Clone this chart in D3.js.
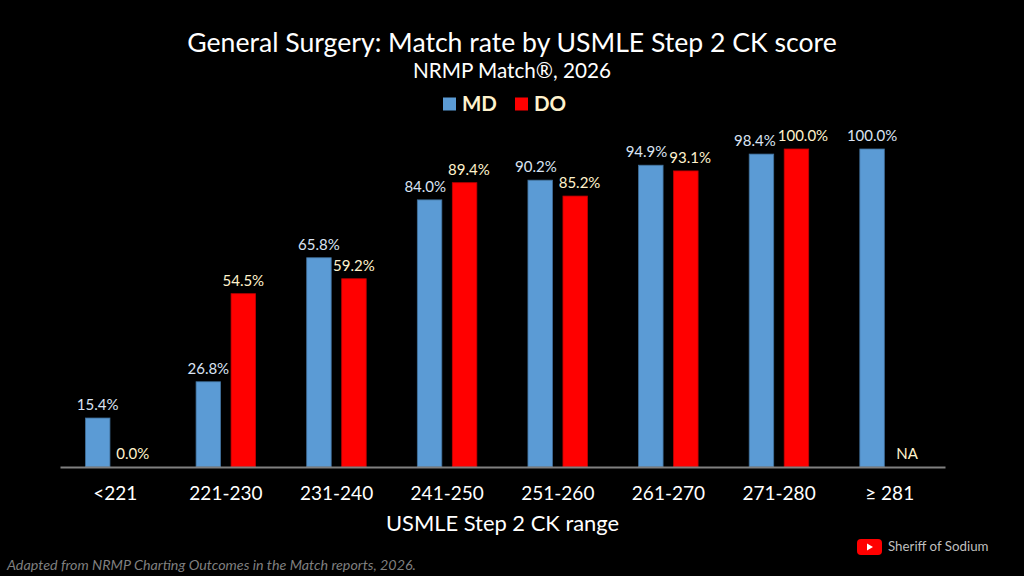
<!DOCTYPE html>
<html>
<head>
<meta charset="utf-8">
<script src="https://cdn.jsdelivr.net/npm/d3@7"></script>
<style>
  html, body { margin: 0; padding: 0; background: #000; }
  svg { display: block; font-family: Lato, "Open Sans", sans-serif; }
</style>
</head>
<body>
<div class="chart"></div>
<script>
// ============================================================================
// Data
// ============================================================================

var categories = ['<221', '221-230', '231-240', '241-250', '251-260', '261-270', '271-280', '≥ 281'];
var seriesNames = ['MD', 'DO'];
var mdValues = [15.4, 26.8, 65.8, 84.0, 90.2, 94.9, 98.4, 100.0];
var doValues = [0.0, 54.5, 59.2, 89.4, 85.2, 93.1, 100.0, null];

// ============================================================================
// Create SVG
// ============================================================================

var svgWidth = 1024;
var svgHeight = 576;

var margin = { left: 60, right: 79, top: 149, bottom: 109 };
var baseline = svgHeight - margin.bottom;

var colors = { MD: '#5b9bd5', DO: '#ff0000' };
var strokes = { MD: '#41719c', DO: '#c00000' };
var labelColors = { MD: '#dae3f3', DO: '#fff2cc' };

var svg = d3.select('.chart')
  .append('svg')
  .attr('width', svgWidth)
  .attr('height', svgHeight);

svg.append('rect')
  .attr('width', svgWidth)
  .attr('height', svgHeight)
  .attr('fill', '#000');

// scales
var xScale = d3.scaleBand()
  .domain(categories)
  .range([margin.left, svgWidth - margin.right]);

var bw = xScale.bandwidth();
var xSub = d3.scaleBand()
  .domain(seriesNames)
  .range([bw * 0.23, bw * 0.768])
  .paddingInner(0.3);

var yScale = d3.scaleLinear()
  .domain([0, 100])
  .range([baseline, margin.top]);

// table for drawing
var rows = [];
categories.forEach(function(c, i) {
  rows.push({ cat: c, series: 'MD', value: mdValues[i] });
  rows.push({ cat: c, series: 'DO', value: doValues[i] });
});

// ============================================================================
// Bars
// ============================================================================

var chartGroup = svg.append('g');

chartGroup.selectAll('rect.bar')
  .data(rows.filter(d => d.value !== null && d.value > 0))
  .enter()
    .append('rect')
    .attr('class', 'bar')
    .attr('x', d => xScale(d.cat) + xSub(d.series))
    .attr('y', d => yScale(d.value))
    .attr('width', xSub.bandwidth())
    .attr('height', d => yScale(0) - yScale(d.value))
    .attr('fill', d => colors[d.series])
    .attr('stroke', d => strokes[d.series])
    .attr('stroke-width', 0.8);

// value labels
var labels = chartGroup.selectAll('text.value')
  .data(rows)
  .enter()
    .append('text')
    .attr('class', 'value')
    .attr('x', d => xScale(d.cat) + xSub(d.series) + xSub.bandwidth() / 2)
    .attr('y', d => yScale(d.value === null ? 0 : d.value) - 8)
    .attr('text-anchor', 'middle')
    .attr('font-size', 15)
    .attr('fill', d => labelColors[d.series])
    .text(d => d.value === null ? 'NA' : d.value.toFixed(1) + '%');

// push apart MD / DO labels that collide (like the auto-placement in the original)
categories.forEach(function(c) {
  var pair = labels.filter(d => d.cat === c).nodes();
  var a = pair[0].getBBox();
  var b = pair[1].getBBox();
  var overlapX = a.x + a.width - b.x;
  var overlapY = Math.min(a.y + a.height, b.y + b.height) - Math.max(a.y, b.y);
  if (overlapX > -1 && overlapY > 0) {
    var shift = (overlapX + 2) / 2;
    d3.select(pair[0]).attr('x', +d3.select(pair[0]).attr('x') - shift);
    d3.select(pair[1]).attr('x', +d3.select(pair[1]).attr('x') + shift);
  }
});

// x axis
var xAxis = d3.axisBottom(xScale).tickSize(0).tickPadding(20);
var axisG = svg.append('g')
  .attr('transform', `translate(0, ${baseline})`)
  .call(xAxis);

axisG.select('.domain')
  .attr('stroke', '#808080')
  .attr('stroke-width', 2);

axisG.selectAll('text')
  .attr('fill', '#fff')
  .attr('font-size', 19)
  .attr('font-family', 'Lato, sans-serif');

// axis title
svg.append('text')
  .attr('x', (margin.left + svgWidth - margin.right) / 2)
  .attr('y', 531)
  .attr('text-anchor', 'middle')
  .attr('fill', '#fff')
  .attr('font-size', 21.9)
  .text('USMLE Step 2 CK range');

// ============================================================================
// Titles and legend
// ============================================================================

svg.append('text')
  .attr('x', 512)
  .attr('y', 52)
  .attr('text-anchor', 'middle')
  .attr('fill', '#fff')
  .attr('font-size', 26.6)
  .text('General Surgery: Match rate by USMLE Step 2 CK score');

svg.append('text')
  .attr('x', 512)
  .attr('y', 78)
  .attr('text-anchor', 'middle')
  .attr('fill', '#fff')
  .attr('font-size', 20.7)
  .text('NRMP Match®, 2026');

var legendX = [443, 515];
var legend = svg.append('g');
seriesNames.forEach(function(s, i) {
  legend.append('rect')
    .attr('x', legendX[i])
    .attr('y', 97.5)
    .attr('width', 13)
    .attr('height', 13)
    .attr('fill', colors[s]);
  legend.append('text')
    .attr('x', legendX[i] + 19)
    .attr('y', 111)
    .attr('fill', '#fff2cc')
    .attr('font-size', 20.5)
    .attr('font-weight', 'bold')
    .text(s);
});

// ============================================================================
// Footer
// ============================================================================

svg.append('text')
  .attr('x', 7)
  .attr('y', 570)
  .attr('fill', '#7f7f7f')
  .attr('font-size', 14.3)
  .attr('font-style', 'italic')
  .text('Adapted from NRMP Charting Outcomes in the Match reports, 2026.');

var yt = svg.append('g').attr('transform', 'translate(857, 539)');
yt.append('rect')
  .attr('width', 25)
  .attr('height', 16)
  .attr('rx', 4)
  .attr('fill', '#ff0000');
yt.append('path')
  .attr('d', 'M10,4.5 L16,8 L10,11.5 Z')
  .attr('fill', '#fff');

svg.append('text')
  .attr('x', 888)
  .attr('y', 551)
  .attr('fill', '#bfbfbf')
  .attr('font-size', 13.3)
  .text('Sheriff of Sodium');
</script>
</body>
</html>
